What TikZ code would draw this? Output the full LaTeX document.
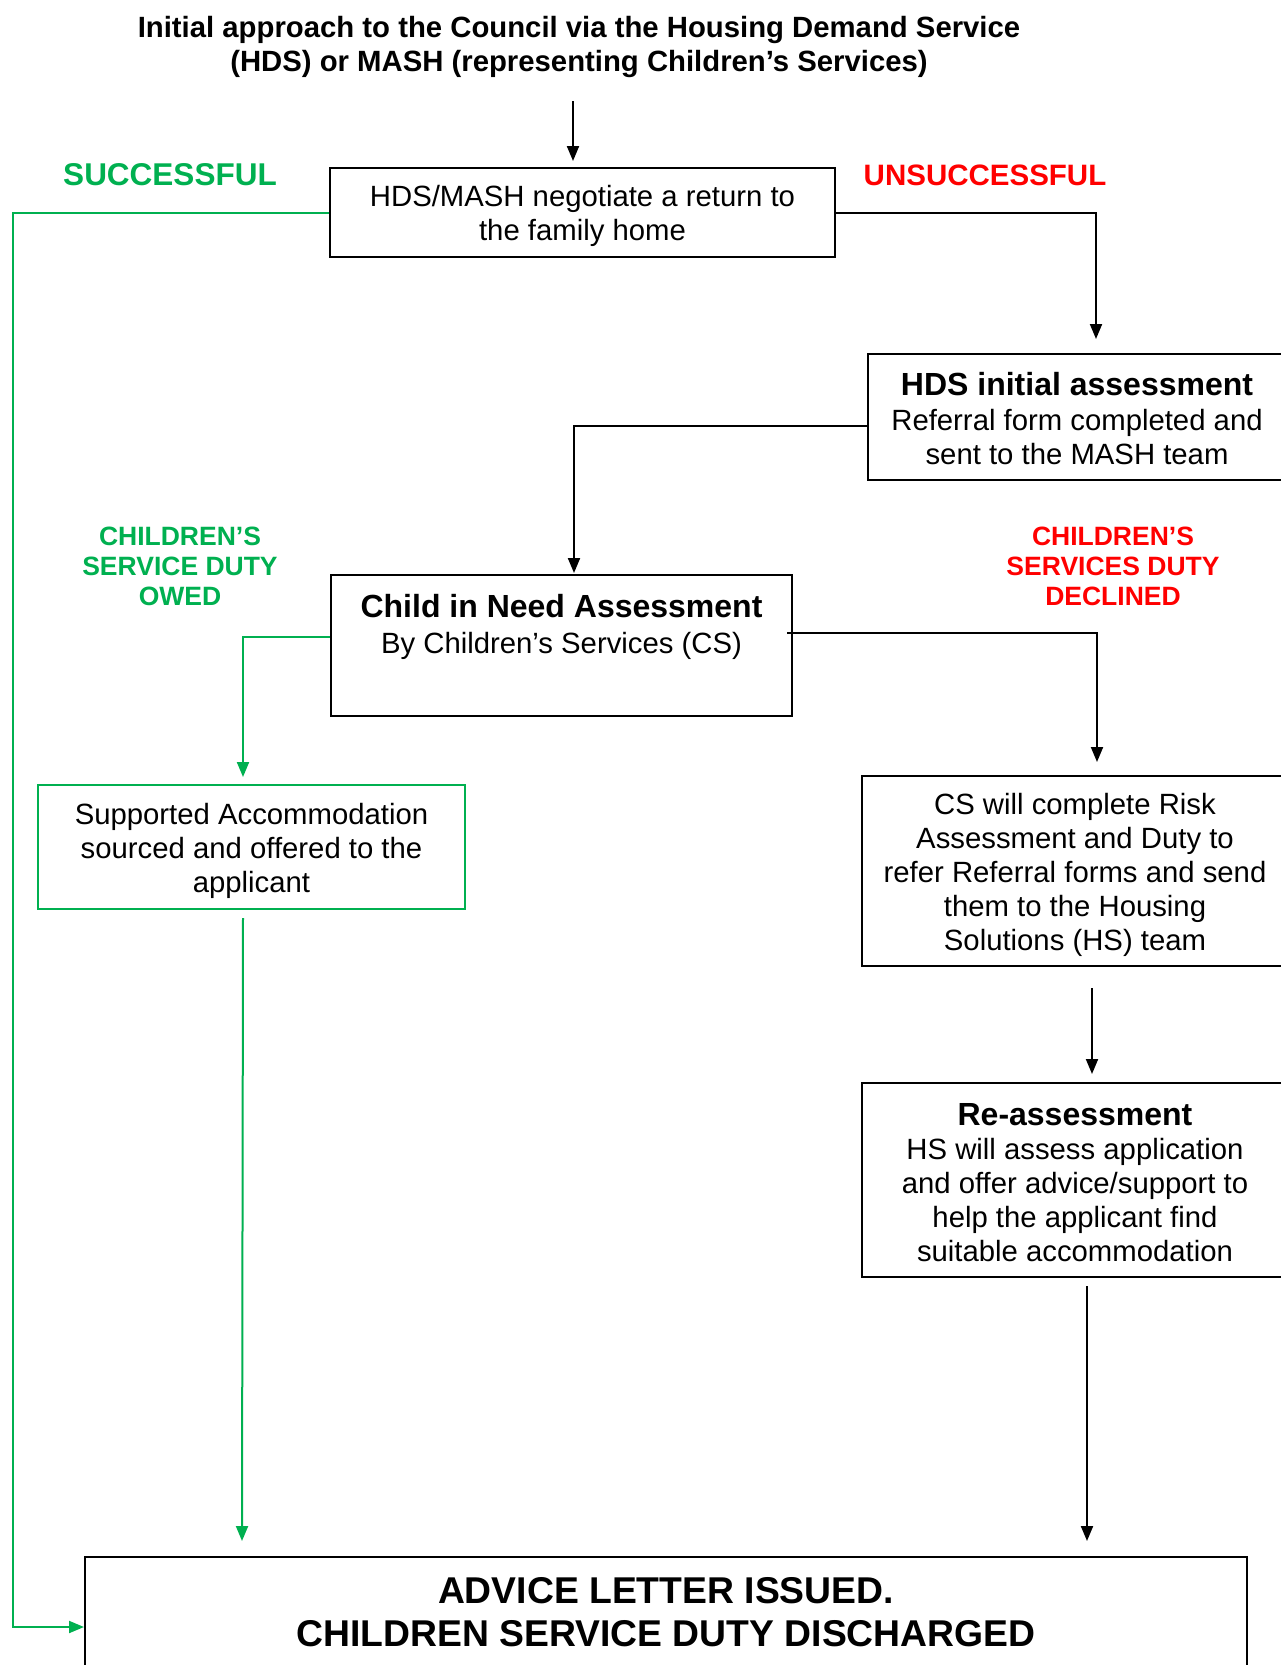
\documentclass[tikz,border=0pt]{standalone}
\usepackage{fontspec}
\setmainfont{Liberation Sans}
\usetikzlibrary{arrows.meta,calc}
\definecolor{ogreen}{HTML}{00B050}
\definecolor{ored}{HTML}{FF0000}
\newcommand\topstrut{\rule{0pt}{29pt}}
\begin{document}
\begin{tikzpicture}[x=1pt,y=-1pt,
  box/.style={draw=black,line width=2pt,align=center,inner sep=0pt},
  body/.style={font=\fontsize{29.3}{34}\selectfont},
  ln/.style={line width=2pt},
  arr/.style={ln,-{Triangle[length=15pt,width=12pt]}},
  gln/.style={ln,draw=ogreen},
  garr/.style={gln,-{Triangle[length=15pt,width=12pt]}},
  lbl/.style={font=\fontsize{26.5}{30}\selectfont\bfseries,align=center}
]
\clip (0,0) rectangle (1281,1665);
\fill[white] (0,0) rectangle (1281,1665);

\node[font=\fontsize{29.3}{34}\selectfont\bfseries,align=center] (title) at (579,47)
  {Initial approach to the Council via the Housing Demand Service\\(HDS) or MASH (representing Children’s Services)};

\node[box,body,minimum width=505,minimum height=89] (b1) at (582.5,212.5)
  {\topstrut HDS/MASH negotiate a return to\\the family home};

\node[font=\fontsize{31.5}{34}\selectfont\bfseries,text=ogreen] (succ) at (170,175) {SUCCESSFUL};
\node[font=\fontsize{29.5}{34}\selectfont\bfseries,text=ored] (unsucc) at (985,175) {UNSUCCESSFUL};

\node[box,body,minimum width=418,minimum height=126] (hds) at (1077,417)
  {{\fontsize{32}{36}\selectfont\bfseries\rule{0pt}{27pt}HDS initial assessment}\\[1pt]Referral form completed and\\sent to the MASH team};

\node[lbl,text=ogreen] (owed) at (180,566) {CHILDREN’S\\SERVICE DUTY\\OWED};
\node[lbl,text=ored] (decl) at (1113,566) {CHILDREN’S\\SERVICES DUTY\\DECLINED};

\node[box,body,minimum width=461,minimum height=141] (cin) at (561.5,645.5)
  {{\fontsize{32}{36}\selectfont\bfseries Child in Need Assessment}\\[2pt]By Children’s Services (CS)\\[10pt]\mbox{}};

\node[box,body,draw=ogreen,minimum width=427,minimum height=124] (sup) at (251.5,847)
  {\topstrut Supported Accommodation\\sourced and offered to the\\applicant};

\node[box,body,minimum width=426,minimum height=190] (cs) at (1075,871)
  {\topstrut CS will complete Risk\\Assessment and Duty to\\refer Referral forms and send\\them to the Housing\\Solutions (HS) team};

\node[box,body,minimum width=426,minimum height=194] (re) at (1075,1180)
  {{\fontsize{32}{36}\selectfont\bfseries\rule{0pt}{28pt}Re-assessment}\\HS will assess application\\and offer advice/support to\\help the applicant find\\suitable accommodation};

\node[box,minimum width=1162,minimum height=111,font=\fontsize{37.3}{43}\selectfont\bfseries] (fin) at (666,1612.5)
  {ADVICE LETTER ISSUED.\\CHILDREN SERVICE DUTY DISCHARGED};

% connectors
\draw[arr] ($(title.south)+(-6,20)$) -- ($(b1.north)+(-9.5,-6)$);
\draw[garr] (b1.west) -| ($(fin.west)+(-71,14.5)$) -- ($(fin.west)+(0,14.5)$);
\draw[arr] (b1.east) -| ($(hds.north)+(19,-14)$);
\draw[arr] ($(hds.west)+(0,9)$) -| ($(cin.north)+(12.5,-1)$);
\draw[garr] ($(cin.west)+(0,-8.5)$) -| ($(sup.north)+(-8.5,-7)$);
\draw[arr] ($(cin.east)+(-6,-12.5)$) -| ($(cs.north)+(22,-13)$);
\draw[garr] ($(sup.south)+(-8.5,8)$) -- ($(fin.north -| sup.south)+(-9.5,-15)$);
\draw[arr] ($(cs.south)+(17,21)$) -- ($(re.north)+(17,-8)$);
\draw[arr] ($(re.south)+(12,8)$) -- ($(fin.north -| re.south)+(12,-15)$);
\end{tikzpicture}
\end{document}
